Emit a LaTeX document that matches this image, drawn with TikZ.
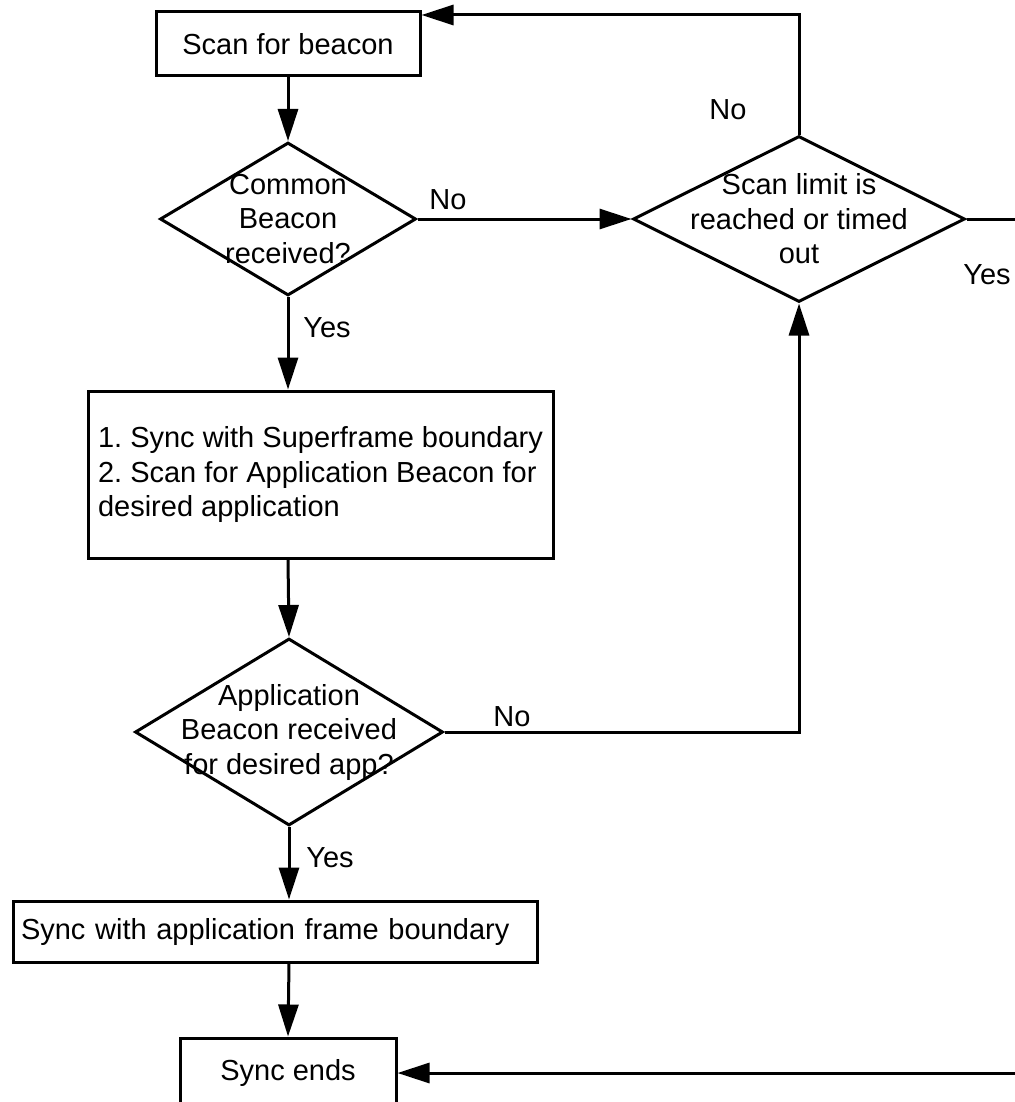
\documentclass[tikz,border=0pt]{standalone}
\usepackage{fontspec}
\setmainfont{Liberation Sans}
\usetikzlibrary{shapes.geometric,arrows.meta}

\begin{document}
\begin{tikzpicture}[x=0.5pt,y=-0.5pt,line width=1.5pt,
  font=\fontsize{14.5}{17.25}\selectfont\frenchspacing,
  stepbox/.style={draw,rectangle,inner sep=0pt},
  decision/.style={draw,diamond,inner sep=0pt},
  flow/.style={-{Triangle[length=16pt,width=10pt]}},
  txt/.style={align=center,inner sep=0pt}]
\useasboundingbox (0,0) rectangle (1015,1102);

\node[stepbox,minimum width=132pt,minimum height=32pt] (scan) at (288,44) {Scan for beacon};

\node[decision,minimum width=128pt,minimum height=76.5pt] (common) at (288,219) {};
\node[txt] (commontxt) at (common) {Common\\Beacon\\received?};

\node[decision,minimum width=166pt,minimum height=83pt] (limit) at (799,219) {};
\node[txt] (limittxt) at (limit) {Scan limit is\\reached or timed\\out};

\node[stepbox,minimum width=232.5pt,minimum height=83.5pt,align=left] (sync) at (320.5,474.5)
  {1. Sync with Superframe boundary\\2. Scan for Application Beacon for\\desired application};

\node[decision,minimum width=154pt,minimum height=93.5pt] (app) at (289,732) {};
\node[txt] (apptxt) at (app) {Application\\Beacon received\\for desired app?};

\node[stepbox,inner xsep=4pt,text width=254pt,minimum height=30.5pt,align=left] (frame) at (275,931.5)
  {Sync with application frame boundary};

\node[stepbox,minimum width=108pt,minimum height=35pt] (ends) at (288,1073) {Sync ends};

% branch labels
\node (no1) at (448,200) {No};
\node (yes1) at (327,328) {Yes};
\node (no2) at (728,110) {No};
\node (yes2) at (987,275) {Yes};
\node (no3) at (512,717) {No};
\node (yes3) at (330,858) {Yes};

\coordinate (topturn) at (799,15);
\coordinate (farright) at (1030,219);

\draw[flow] (scan.south) -- (common.north);
\draw[flow] (common.east) -- (limit.west);
\draw[flow] (common.south) -- (common.south |- sync.north);
\draw[flow] (common.south |- sync.south) -- (app.north);
\draw[flow] (app.south) -- (app.south |- frame.north);
\draw[flow] (app.south |- frame.south) -- (ends.north);
\draw[flow] (app.east) -| (limit.south);
\draw[flow] (limit.north) -- (topturn) -- (scan.east |- topturn);
\draw[flow] (limit.east) -- (farright) |- (ends.east);
\end{tikzpicture}
\end{document}
